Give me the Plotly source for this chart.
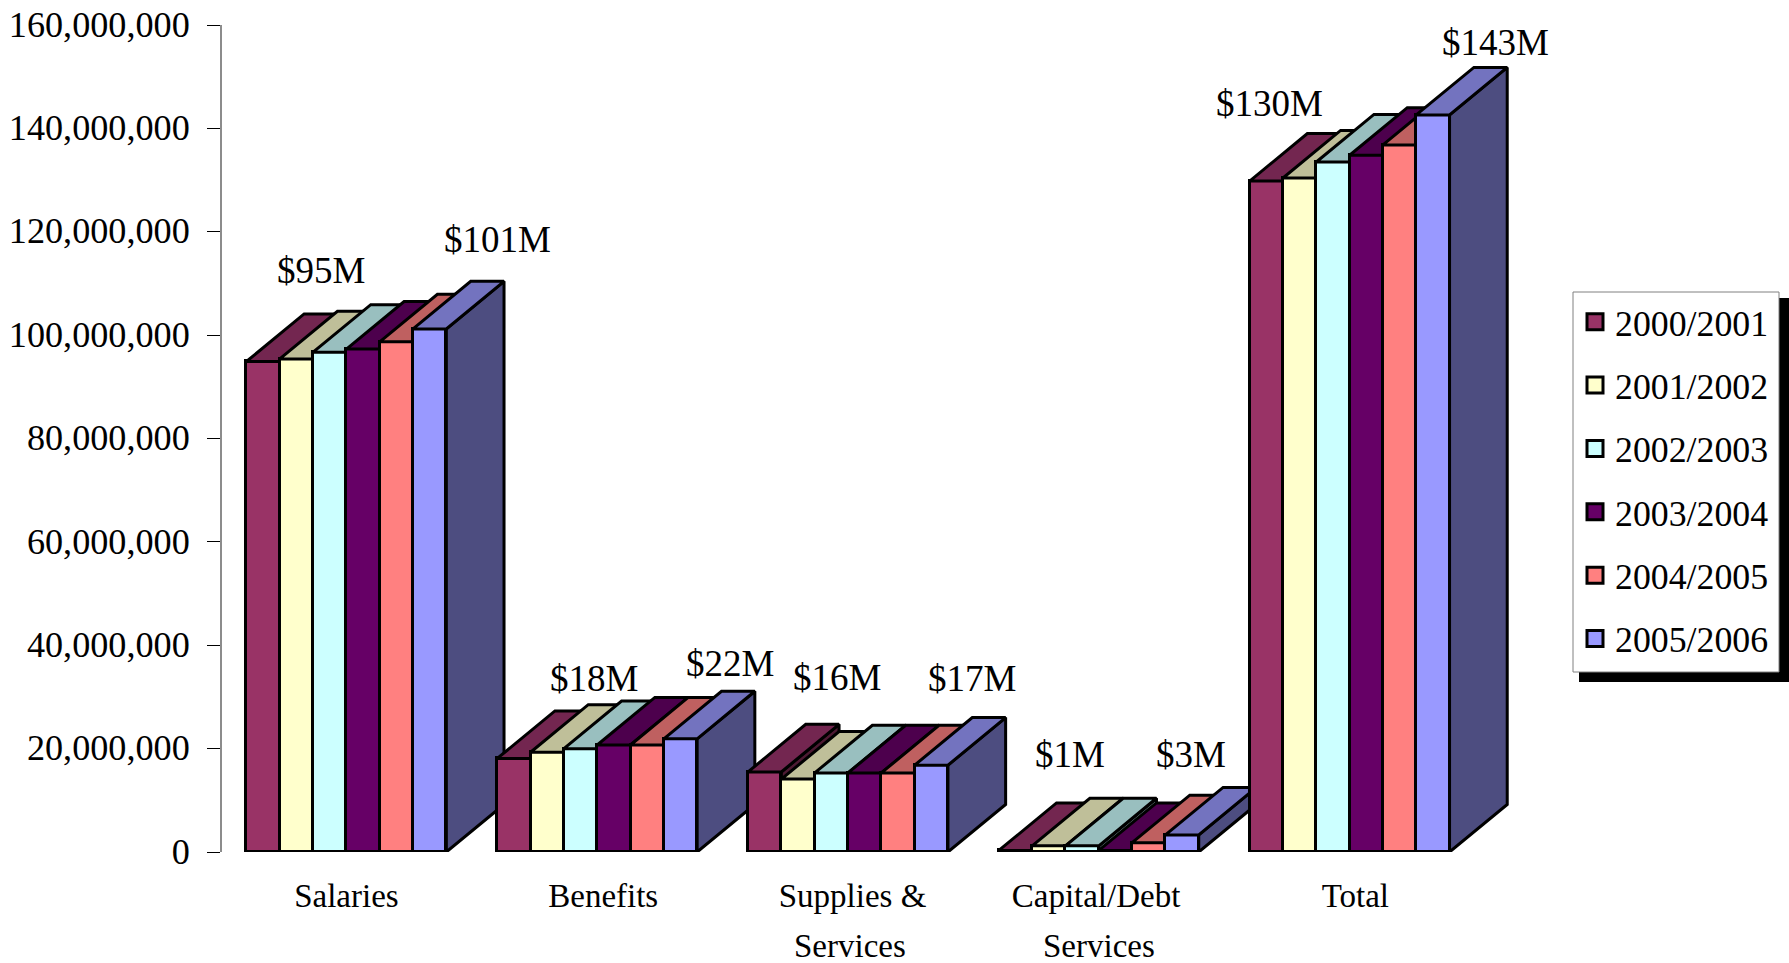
import plotly.graph_objects as go

categories = ["Salaries", "Benefits", "Supplies &", "Capital/Debt", "Total"]
years = ["2000/2001", "2001/2002", "2002/2003", "2003/2004", "2004/2005", "2005/2006"]

# Values in dollars, one list per fiscal year (Salaries, Benefits, Supplies, Capital, Total)
v2000 = [94.9e6, 18.1e6, 15.5e6, 0.3e6, 129.8e6]
v2001 = [95.4e6, 19.3e6, 14.1e6, 1.2e6, 130.4e6]
v2002 = [96.7e6, 20.0e6, 15.3e6, 1.2e6, 133.5e6]
v2003 = [97.3e6, 20.7e6, 15.3e6, 0.3e6, 134.8e6]
v2004 = [98.7e6, 20.7e6, 15.3e6, 1.8e6, 136.8e6]
v2005 = [101.2e6, 21.9e6, 16.8e6, 3.3e6, 142.6e6]
series = [v2000, v2001, v2002, v2003, v2004, v2005]

front_colors = ["#993366", "#FFFFCC", "#CCFFFF", "#660066", "#FF8080", "#9999FF"]
top_colors = ["#732650", "#BFBF99", "#99BFBF", "#4D004D", "#BF6060", "#7373BF"]
side_colors = ["#4D1A33", "#808066", "#668080", "#330033", "#804040", "#4D4D80"]

FONT = "Liberation Serif"
GROUP_W = 0.797
BAR_W = GROUP_W / 6
DX = 0.23          # depth, category units
DY = 9.2e6         # depth, value units
LW = 3
CAT_PX = 250.8

# Pixel frame of the plot area
L, R, T, B = 221, 1511, 25, 852
W, H = R - L, B - T

fig = go.Figure()
z = 0
for c in range(len(categories)):
    for s, vals in enumerate(series):
        v = vals[c]
        x0 = c - GROUP_W / 2 + s * BAR_W
        x1 = x0 + BAR_W
        common = dict(mode="lines", fill="toself", showlegend=False, hoverinfo="skip",
                      line=dict(color="black", width=LW), zorder=z)
        fig.add_trace(go.Scatter(x=[x1, x1 + DX, x1 + DX, x1, x1], y=[0, DY, v + DY, v, 0],
                                 fillcolor=side_colors[s], **common))
        fig.add_trace(go.Scatter(x=[x0, x1, x1 + DX, x0 + DX, x0], y=[v, v, v + DY, v + DY, v],
                                 fillcolor=top_colors[s], **common))
        fig.add_trace(go.Bar(x=[(x0 + x1) / 2], y=[v], width=BAR_W, marker_color=front_colors[s],
                             marker_line=dict(color="black", width=LW), showlegend=False,
                             name=years[s], zorder=z))
        z += 1

for s, y in enumerate(years):
    fig.add_trace(go.Scatter(x=[None], y=[None], mode="markers", name=y, legendgroup=y,
                             marker=dict(symbol="square", size=16, color=front_colors[s],
                                         line=dict(color="black", width=LW))))

# Data labels: (category, series, text, x shift px, y shift px)
labels = [
    (0, 0, "$95M", 58, 91), (0, 5, "$101M", 68, 89),
    (1, 0, "$18M", 80, 80), (1, 5, "$22M", 50, 75),
    (2, 0, "$16M", 72, 94), (2, 5, "$17M", 41, 87),
    (3, 0, "$1M", 54, 96), (3, 5, "$3M", 9, 80),
    (4, 0, "$130M", 3, 78), (4, 5, "$143M", 63, 72),
]
annotations = []
for c, s, text, sx, sy in labels:
    annotations.append(dict(x=c - GROUP_W / 2 + (s + 0.5) * BAR_W, y=series[s][c], text=text, showarrow=False,
                            xanchor="center", yanchor="middle", xshift=sx, yshift=sy,
                            font=dict(family=FONT, size=37, color="black")))

# Second lines of the wrapped category labels
for c, text, shift in [(2, "Services", 0.009), (3, "Services", 0.001)]:
    annotations.append(dict(x=c + shift, y=0, text=text, showarrow=False, xanchor="center",
                            yanchor="middle", yshift=-94,
                            font=dict(family=FONT, size=33, color="black")))

tick_shift = [0, 0.024, 0.018, -0.011, 0.023]
y_ticks = list(range(0, 160000001, 20000000))


def px(x):
    return (x - L) / W


def py(y):
    return (B - y) / H


fig.update_layout(
    width=1789, height=963, autosize=False,
    margin=dict(l=L, r=1789 - R, t=T, b=963 - B, autoexpand=False),
    paper_bgcolor="white", plot_bgcolor="white",
    barmode="overlay", bargap=0,
    xaxis=dict(range=[-0.5, -0.5 + W / CAT_PX], showgrid=False, zeroline=False, showline=False,
               ticks="", tickvals=[i + d for i, d in enumerate(tick_shift)], ticktext=categories,
               tickfont=dict(family=FONT, size=33, color="black"), ticklabelstandoff=21,
               tickangle=0),
    yaxis=dict(range=[0, 160000000], tickvals=y_ticks, tickformat=",", showgrid=False, zeroline=False,
               showline=False, ticks="outside", ticklen=13,
               tickcolor="black", tickwidth=1, ticklabelstandoff=10, ticklabelshift=-1,
               tickfont=dict(family=FONT, size=36.2, color="black")),
    legend=dict(x=px(1575), y=py(292), xanchor="left", yanchor="top", bgcolor="rgba(0,0,0,0)",
                borderwidth=0, tracegroupgap=13.8, itemclick=False,
                font=dict(family=FONT, size=35.8, color="black")),
    shapes=[dict(type="rect", xref="paper", yref="paper", x0=px(1579), x1=px(1795), y0=py(682), y1=py(298),
                 fillcolor="black", line_width=0, layer="below"),
            dict(type="rect", xref="paper", yref="paper", x0=px(1573), x1=px(1779), y0=py(672), y1=py(292),
                 fillcolor="white", line=dict(color="#808080", width=1), layer="below"),
            dict(type="line", xref="paper", yref="paper", x0=0, x1=0, y0=0, y1=1,
                 line=dict(color="#666666", width=1.5), layer="below")],
    annotations=annotations,
)

fig.write_html("out.html", config=dict(displayModeBar=False), post_script="document.body.style.margin='0';")
